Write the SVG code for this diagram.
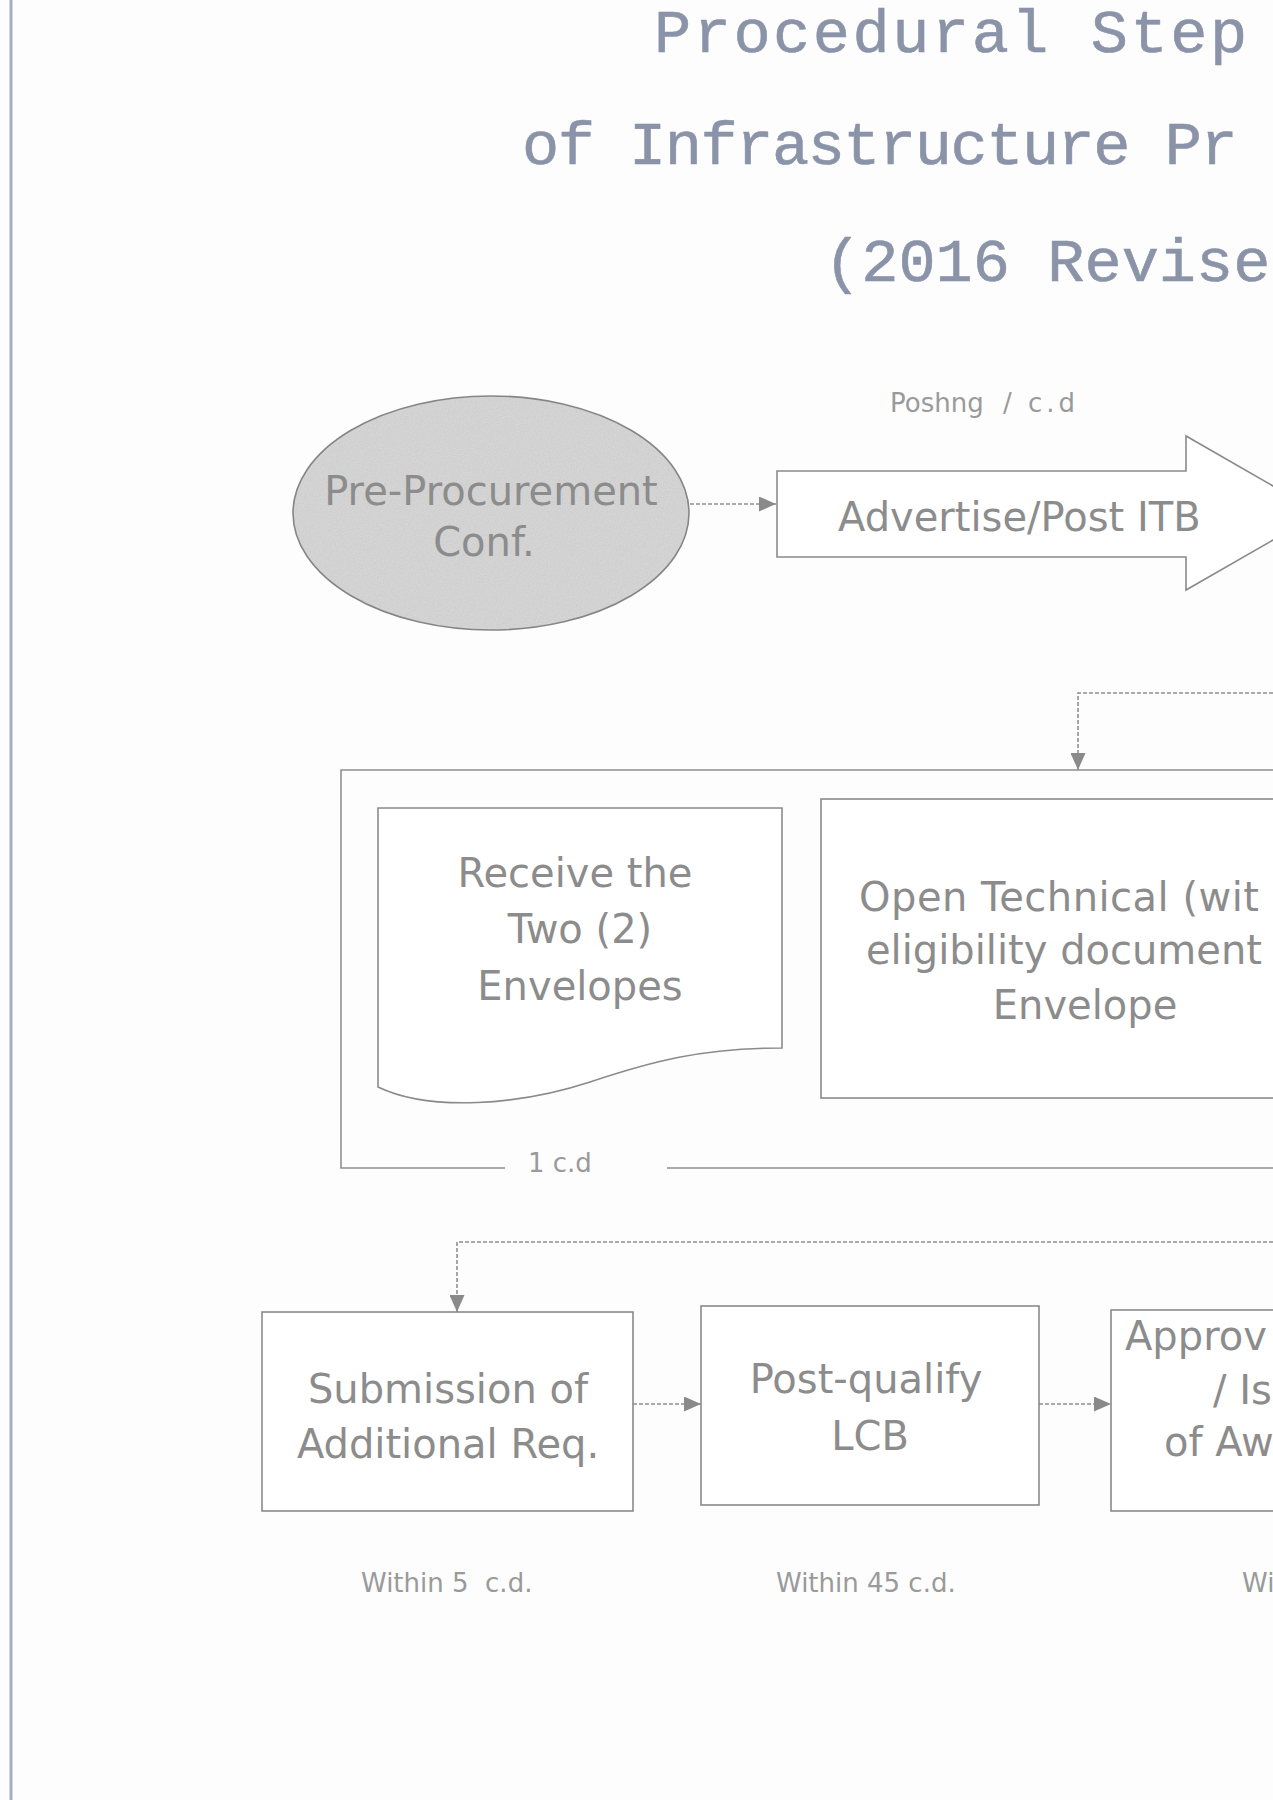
<svg xmlns="http://www.w3.org/2000/svg" width="1273" height="1800" viewBox="0 0 1273 1800">
<style>
.title{font-family:"Liberation Mono","DejaVu Sans Mono",monospace;font-size:62px;fill:#8a93a8;stroke:#8a93a8;stroke-width:0.6}
.box{fill:#ffffff;stroke:#8a8a8a;stroke-width:1.6}
.t{font-family:"DejaVu Sans","Liberation Sans",sans-serif;font-size:40px;fill:#8c8c8c}
.c{text-anchor:middle}
.lbl{font-family:"DejaVu Sans","Liberation Sans",sans-serif;font-size:26px;fill:#9a9a9a;white-space:pre}
.con{fill:none;stroke:#8f8f8f;stroke-width:1.6;stroke-dasharray:4 2}
</style>
<defs>
<marker id="ah" markerUnits="userSpaceOnUse" markerWidth="17" markerHeight="15" viewBox="0 0 17 15" refX="17" refY="7.5" orient="auto">
<path d="M0 0 L17 7.5 L0 15 Z" fill="#8a8a8a"/>
</marker>
<filter id="grain" x="0" y="0" width="100%" height="100%">
<feTurbulence type="fractalNoise" baseFrequency="0.85" numOctaves="2" seed="4"/>
<feColorMatrix type="matrix" values="0 0 0 0 0.5  0 0 0 0 0.5  0 0 0 0 0.5  0 0 0 0.9 -0.25"/>
<feComposite operator="in" in2="SourceGraphic"/>
</filter>
</defs>
<rect width="1273" height="1800" fill="#fdfdfd"/>
<line x1="11" y1="0" x2="11" y2="1800" stroke="#a4b0bf" stroke-width="3"/>

<g id="title">
<text class="title" x="654" y="52" letter-spacing="2.5">Procedural Step</text>
<text class="title" x="522" y="164" letter-spacing="-1.5">of Infrastructure Pr</text>
<text class="title" x="824" y="281">(2016 Revise</text>
</g>

<g id="connectors">
<path class="con" d="M690 504 H776" marker-end="url(#ah)"/>
<path class="con" d="M1273 693 H1078 V770" marker-end="url(#ah)"/>
<path class="con" d="M1273 1242 H457 V1312" marker-end="url(#ah)"/>
<path class="con" d="M633 1404 H701" marker-end="url(#ah)"/>
<path class="con" d="M1039 1404 H1111" marker-end="url(#ah)"/>
</g>

<g id="pre-procurement">
<ellipse cx="491" cy="513" rx="198" ry="117" fill="#d6d6d6" stroke="#858585" stroke-width="1.6"/>
<ellipse cx="491" cy="513" rx="197" ry="116" fill="#000" filter="url(#grain)" opacity="0.7"/>
<text class="t c" x="491" y="505" fill="#959595">Pre-Procurement</text>
<text class="t c" x="484" y="556" fill="#959595">Conf.</text>
</g>

<g id="advertise">
<path class="box" d="M777 471 H1186 V436 L1320 513 L1186 590 V557 H777 Z"/>
<text class="t" x="838" y="531" font-size="39">Advertise/Post ITB</text>
<text class="lbl" x="890" y="412">Poshng</text>
<text class="lbl" x="1003" y="412" letter-spacing="4">/ c.d</text>
</g>

<g id="opening-group">
<path class="con" style="stroke-dasharray:none" d="M505 1168 H341 V770 H1273 M667 1168 H1273"/>
<text class="lbl" x="528" y="1172">1 c.d</text>
</g>

<g id="receive">
<path class="box" d="M378 808 H782 V1048 C700 1048 650 1062 590 1082 C520 1105 430 1112 378 1087 Z"/>
<text class="t c" x="575" y="887">Receive the</text>
<text class="t c" x="580" y="943">Two (2)</text>
<text class="t c" x="580" y="1000">Envelopes</text>
</g>

<g id="open-technical">
<rect class="box" x="821" y="799" width="480" height="299"/>
<text class="t" x="859" y="911" font-size="43" letter-spacing="0.5">Open Technical (wit</text>
<text class="t" x="866" y="964" font-size="43">eligibility document</text>
<text class="t c" x="1085" y="1019" font-size="43">Envelope</text>
</g>

<g id="submission">
<rect class="box" x="262" y="1312" width="371" height="199"/>
<text class="t c" x="448" y="1403">Submission of</text>
<text class="t c" x="448" y="1458" font-size="41">Additional Req.</text>
<text class="lbl" x="361" y="1592">Within 5  c.d.</text>
</g>

<g id="post-qualify">
<rect class="box" x="701" y="1306" width="338" height="199"/>
<text class="t c" x="866" y="1393">Post-qualify</text>
<text class="t c" x="870" y="1450">LCB</text>
<text class="lbl" x="776" y="1592">Within 45 c.d.</text>
</g>

<g id="approval">
<rect class="box" x="1111" y="1310" width="200" height="201"/>
<text class="t" x="1125" y="1350" font-size="41">Approv</text>
<text class="t" x="1213" y="1404" font-size="41">/ Is</text>
<text class="t" x="1164" y="1456" font-size="41">of Aw</text>
<text class="lbl" x="1242" y="1592">Wi</text>
</g>
</svg>
